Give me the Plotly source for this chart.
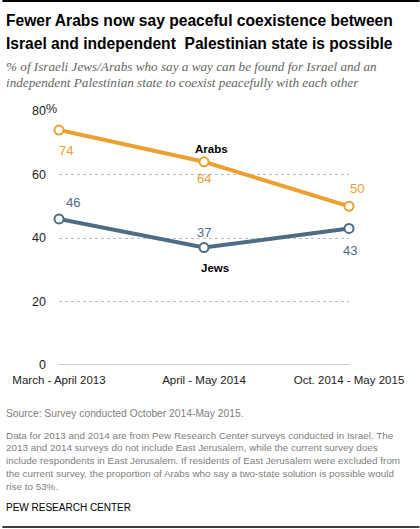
import plotly.graph_objects as go

# survey waves
periods = ["March - April 2013", "April - May 2014", "Oct. 2014 - May 2015"]
arabs = [74, 64, 50]
jews = [46, 37, 43]
y_ticks = [0, 20, 40, 60, 80]

title_lines = ["<b>Fewer Arabs now say peaceful coexistence between</b>",
               "<b>Israel and independent  Palestinian state is possible</b>"]
subtitle_lines = ["<i>% of Israeli Jews/Arabs who say a way can be found for Israel and an</i>",
                  "<i>independent Palestinian state to coexist peacefully with each other</i>"]
note_lines = ["Data for 2013 and 2014 are from Pew Research Center surveys conducted in Israel. The",
              "2013 and 2014 surveys do not include East Jerusalem, while the current survey does",
              "include respondents in East Jerusalem. If residents of East Jerusalem were excluded from",
              "the current survey, the proportion of Arabs who say a two-state solution is possible would",
              "rise to 53%."]

ORANGE = "#EBA032"
BLUE = "#4D6C85"

W, H = 420, 529
L, R, T, B = 57, 71, 111, 164
PW, PH = W - L - R, H - T - B


def px(x):
    return (x - L) / PW


def py(y):
    return (H - B - y) / PH


def text_at(x, y, text, size, color, family, anchor="left"):
    return dict(x=px(x), y=py(y), xref="paper", yref="paper", xanchor=anchor, yanchor="middle",
                align="left", showarrow=False, text=text,
                font=dict(size=size, color=color, family=family))


fig = go.Figure()
fig.add_trace(go.Scatter(x=[0, 1, 2], y=arabs, mode="lines+markers", name="Arabs",
                         line=dict(color=ORANGE, width=4),
                         marker=dict(size=9, color="white", line=dict(color=ORANGE, width=2)),
                         cliponaxis=False, hoverinfo="skip"))
fig.add_trace(go.Scatter(x=[0, 1, 2], y=jews, mode="lines+markers", name="Jews",
                         line=dict(color=BLUE, width=4),
                         marker=dict(size=9, color="white", line=dict(color=BLUE, width=2)),
                         cliponaxis=False, hoverinfo="skip"))

annotations = []
# value labels: x shift, y shift per point
arab_shifts = [(7, -20), (0, -17), (8, 18)]
jew_shifts = [(14, 16), (0, 15), (1, -22)]
for i, v in enumerate(arabs):
    dx, dy = arab_shifts[i]
    annotations.append(dict(x=i, y=v, text=str(v), showarrow=False, xshift=dx, yshift=dy,
                            font=dict(size=13, color=ORANGE, family="Liberation Sans")))
for i, v in enumerate(jews):
    dx, dy = jew_shifts[i]
    annotations.append(dict(x=i, y=v, text=str(v), showarrow=False, xshift=dx, yshift=dy,
                            font=dict(size=13, color=BLUE, family="Liberation Sans")))

# series labels
annotations.append(dict(x=1, y=arabs[1], text="<b>Arabs</b>", showarrow=False, xshift=7, yshift=13,
                        font=dict(size=11.5, color="black", family="Liberation Sans")))
annotations.append(dict(x=1, y=jews[1], text="<b>Jews</b>", showarrow=False, xshift=11, yshift=-20,
                        font=dict(size=11.5, color="black", family="Liberation Sans")))

# percent sign next to top tick
annotations.append(text_at(42, 109, "%", 12.5, "#222", "Liberation Sans"))

# title, subtitle, notes
annotations.append(text_at(2, 21, title_lines[0], 15.6, "black", "Liberation Sans"))
annotations.append(text_at(2, 43, title_lines[1], 15.6, "black", "Liberation Sans"))
annotations.append(text_at(2, 66, subtitle_lines[0], 13.2, "#666", "Liberation Serif"))
annotations.append(text_at(2, 82, subtitle_lines[1], 13.2, "#666", "Liberation Serif"))
annotations.append(text_at(2, 413, "Source: Survey conducted October 2014-May 2015.", 10.3, "#808080",
                           "Liberation Sans"))
for k, line in enumerate(note_lines):
    annotations.append(text_at(2, 435 + k * 12.8, line, 9.9, "#808080", "Liberation Sans"))
annotations.append(text_at(2, 507, "PEW RESEARCH CENTER", 10, "black", "Liberation Sans"))

shapes = [
    dict(type="line", xref="paper", yref="paper", x0=px(0), x1=px(W), y0=py(1), y1=py(1),
         line=dict(color="black", width=2)),
    dict(type="line", xref="paper", yref="paper", x0=px(0), x1=px(W), y0=py(527), y1=py(527),
         line=dict(color="black", width=1.5)),
    dict(type="line", xref="x", yref="y", x0=0, x1=2, y0=0, y1=0,
         line=dict(color="#999", width=1)),
]

fig.update_layout(
    width=W, height=H,
    margin=dict(l=L, r=R, t=T, b=B),
    paper_bgcolor="white", plot_bgcolor="white",
    showlegend=False,
    annotations=annotations,
    shapes=shapes,
    xaxis=dict(range=[0, 2], tickvals=[0, 1, 2], ticktext=periods, showgrid=False, zeroline=False,
               showline=False, ticks="", ticklabelstandoff=6,
               tickfont=dict(size=11.5, color="#222", family="Liberation Sans"), fixedrange=True),
    yaxis=dict(range=[0, 80], tickvals=y_ticks, ticktext=[str(t) for t in y_ticks],
               showgrid=True, gridcolor="#bbb", griddash="dot", gridwidth=1, zeroline=False,
               showline=False, ticks="", ticklabelstandoff=12,
               tickfont=dict(size=12.5, color="#222", family="Liberation Sans"), fixedrange=True),
)

# drop the default page margin so the figure sits at the window corner
fig.write_html("out.html", config={"displayModeBar": False},
               post_script="document.body.style.margin='0';")
